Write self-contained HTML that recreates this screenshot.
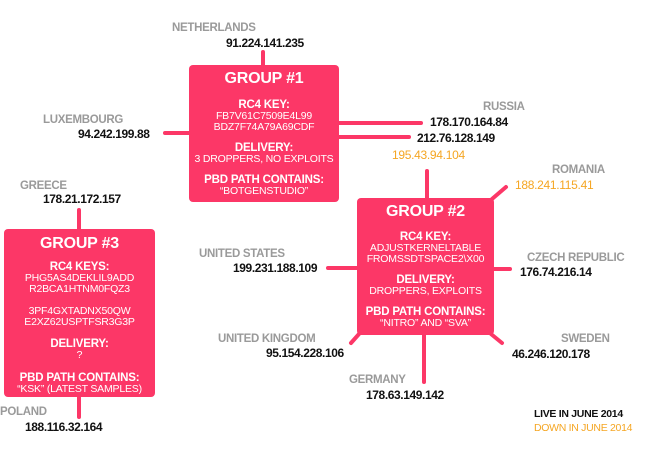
<!DOCTYPE html>
<html><head><meta charset="utf-8"><style>
body{margin:0;width:645px;height:465px;background:#fff;position:relative;overflow:hidden;font-family:"Liberation Sans",sans-serif}
.a{position:absolute;white-space:nowrap}
.g{color:#9a9a9a;font-weight:bold;font-size:11.5px;letter-spacing:-0.3px}
.ip{color:#111;font-weight:bold;font-size:12px;letter-spacing:-0.4px}
.o{color:#f5a623;font-size:12px;letter-spacing:-0.3px}
.box{position:absolute;background:#fc3767;border-radius:4px;color:#fff;text-align:center}
.box div{line-height:11px;font-size:10.5px;letter-spacing:-0.2px}
.box .h{font-size:16px;font-weight:bold;line-height:18px}
.box .b{font-weight:bold;font-size:11.5px;line-height:12px}
</style></head><body>
<svg class="a" style="left:0;top:0" width="645" height="465">
<g stroke="#fc3767" stroke-width="4" stroke-linecap="round">
<line x1="263" y1="52" x2="263" y2="66"/>
<line x1="165" y1="133" x2="190" y2="133"/>
<line x1="338" y1="123" x2="421" y2="123"/>
<line x1="338" y1="137" x2="409" y2="137"/>
<line x1="427" y1="171" x2="427" y2="199"/>
<line x1="492" y1="199" x2="506" y2="187"/>
<line x1="328" y1="268" x2="360" y2="268"/>
<line x1="492" y1="269" x2="510" y2="269"/>
<line x1="351" y1="343" x2="359" y2="334"/>
<line x1="424" y1="333" x2="424" y2="382"/>
<line x1="491" y1="334" x2="502" y2="343"/>
<line x1="79" y1="210" x2="79" y2="231"/>
<line x1="79" y1="395" x2="79" y2="417"/>
</g></svg>
<div class="box" style="left:189px;top:65px;width:150px;height:137px">
<div class="h" style="margin-top:5px">GROUP #1</div>
<div class="b" style="margin-top:11px">RC4 KEY:</div>
<div>FB7V61C7509E4L99</div><div>BDZ7F74A79A69CDF</div>
<div class="b" style="margin-top:9px">DELIVERY:</div>
<div>3 DROPPERS, NO EXPLOITS</div>
<div class="b" style="margin-top:9px">PBD PATH CONTAINS:</div>
<div>“BOTGENSTUDIO”</div>
</div>
<div class="box" style="left:357px;top:198px;width:137px;height:137px">
<div class="h" style="margin-top:5px">GROUP #2</div>
<div class="b" style="margin-top:10px">RC4 KEY:</div>
<div>ADJUSTKERNELTABLE</div><div>FROMSSDTSPACE2\X00</div>
<div class="b" style="margin-top:9px">DELIVERY:</div>
<div>DROPPERS, EXPLOITS</div>
<div class="b" style="margin-top:9px">PBD PATH CONTAINS:</div>
<div>“NITRO” AND “SVA”</div>
</div>
<div class="box" style="left:4px;top:229px;width:151px;height:168px">
<div class="h" style="margin-top:6px">GROUP #3</div>
<div class="b" style="margin-top:8px">RC4 KEYS:</div>
<div>PHG5AS4DEKLIL9ADD</div><div>R2BCA1HTNM0FQZ3</div>
<div style="margin-top:11px">3PF4GXTADNX50QW</div><div>E2XZ62USPTFSR3G3P</div>
<div class="b" style="margin-top:10px">DELIVERY:</div>
<div>?</div>
<div class="b" style="margin-top:11px">PBD PATH CONTAINS:</div>
<div>“KSK” (LATEST SAMPLES)</div>
</div>
<div class="a g" style="left:172px;top:22px">NETHERLANDS</div>
<div class="a ip" style="left:226px;top:36px">91.224.141.235</div>
<div class="a g" style="left:43px;top:114px">LUXEMBOURG</div>
<div class="a ip" style="left:78px;top:127px">94.242.199.88</div>
<div class="a g" style="left:483px;top:101px">RUSSIA</div>
<div class="a ip" style="left:430px;top:115px">178.170.164.84</div>
<div class="a ip" style="left:417px;top:131px">212.76.128.149</div>
<div class="a o" style="left:392px;top:148px">195.43.94.104</div>
<div class="a g" style="left:552px;top:164px">ROMANIA</div>
<div class="a o" style="left:515px;top:178px">188.241.115.41</div>
<div class="a g" style="left:20px;top:180px">GREECE</div>
<div class="a ip" style="left:43px;top:192px">178.21.172.157</div>
<div class="a g" style="left:199px;top:248px">UNITED STATES</div>
<div class="a ip" style="left:233px;top:261px">199.231.188.109</div>
<div class="a g" style="left:527px;top:252px">CZECH REPUBLIC</div>
<div class="a ip" style="left:520px;top:265px">176.74.216.14</div>
<div class="a g" style="left:218px;top:333px">UNITED KINGDOM</div>
<div class="a ip" style="left:266px;top:346px">95.154.228.106</div>
<div class="a g" style="left:561px;top:333px">SWEDEN</div>
<div class="a ip" style="left:512px;top:347px">46.246.120.178</div>
<div class="a g" style="left:349px;top:374px">GERMANY</div>
<div class="a ip" style="left:366px;top:388px">178.63.149.142</div>
<div class="a g" style="left:0px;top:406px">POLAND</div>
<div class="a ip" style="left:25px;top:420px">188.116.32.164</div>
<div class="a" style="left:534px;top:408px;font-size:10.5px;font-weight:bold;color:#111;letter-spacing:-0.3px">LIVE IN JUNE 2014</div>
<div class="a" style="left:534px;top:422px;font-size:10.5px;color:#f5a623;letter-spacing:-0.3px">DOWN IN JUNE 2014</div>
</body></html>
